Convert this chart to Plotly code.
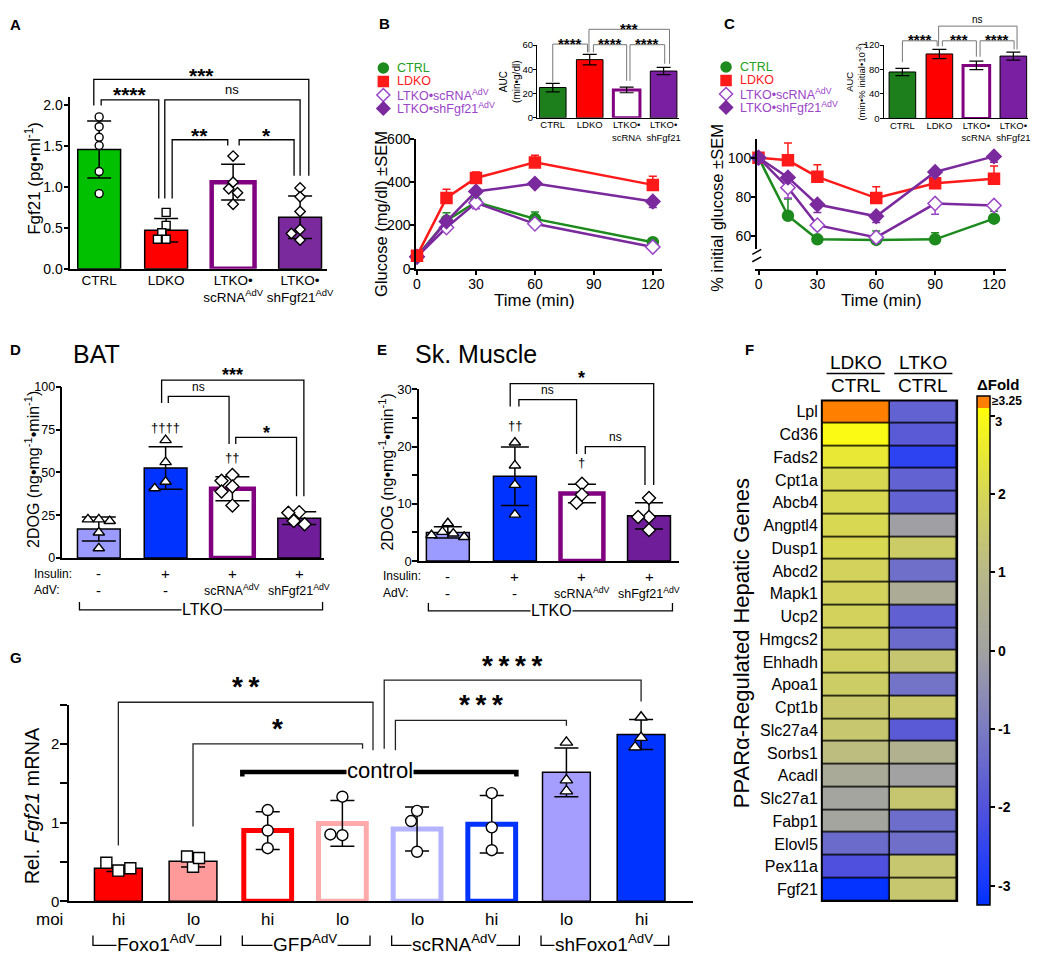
import plotly.graph_objects as go

W, H = 1050, 970
SANS = "Liberation Sans, Arial, Helvetica, sans-serif"
NARROW = "Liberation Sans Narrow, Arial Narrow, Liberation Sans, sans-serif"

# ---------------- data ----------------
# A  serum Fgf21
a_groups = ["CTRL", "LDKO", "LTKO•<br>scRNA<sup>AdV</sup>", "LTKO•<br>shFgf21<sup>AdV</sup>"]
a_mean = [1.46, 0.47, 1.06, 0.63]
a_sd = [0.35, 0.145, 0.22, 0.26]
a_dots = [[1.86, 1.74, 1.61, 1.51, 1.19, 0.92],
          [0.69, 0.53, 0.44, 0.36, 0.36],
          [1.38, 1.06, 0.98, 0.93, 0.79],
          [0.99, 0.88, 0.70, 0.48, 0.43, 0.35]]

# B  glucose tolerance
gtt_t = [0, 15, 30, 60, 120]
gtt_ctrl = [57, 222, 308, 230, 122]
gtt_ctrl_sem = [0, 36, 10, 32, 8]
gtt_ldko = [60, 327, 419, 491, 387]
gtt_ldko_sem = [0, 40, 28, 33, 40]
gtt_sc = [55, 190, 304, 207, 100]
gtt_sc_sem = [0, 15, 27, 8, 5]
gtt_sh = [55, 218, 357, 393, 310]
gtt_sh_sem = [0, 10, 8, 8, 28]
auc_groups = ["CTRL", "LDKO", "LTKO•<br>scRNA", "LTKO•<br>shFgf21"]
gtt_auc = [25, 48, 23, 38.6]
gtt_auc_sem = [3.5, 4.3, 2.3, 3.0]

# C  insulin tolerance
itt_t = [0, 15, 30, 60, 90, 120]
itt_ctrl = [100, 70.5, 58.5, 58.2, 58.5, 69]
itt_ctrl_sem = [0, 8.5, 1, 4.6, 3.3, 3.8]
itt_ldko = [100, 98.7, 90.3, 79.5, 87, 89.3]
itt_ldko_sem = [0, 8.8, 6.2, 5.8, 2, 6.5]
itt_sc = [100, 84.8, 65.7, 59.5, 76.7, 75.7]
itt_sc_sem = [0, 5.3, 2, 2.5, 5.5, 1]
itt_sh = [100, 90, 76.2, 70.2, 92.8, 100.7]
itt_sh_sem = [0, 1, 4, 3.2, 1, 3]
itt_auc = [76, 105.5, 86.8, 102]
itt_auc_sem = [6, 7.5, 7, 6.5]

# D / E  2DOG uptake
dog_insulin = ["-", "+", "+", "+"]
dog_adv = ["-", "-", "scRNA<sup>AdV</sup>", "shFgf21<sup>AdV</sup>"]
bat_mean = [17.0, 52.5, 40.5, 23.3]
bat_sd = [7.0, 12.4, 7.0, 3.7]
bat_dots = [[22.6, 22.6, 21.6, 14.9, 5.7], [68.8, 56.0, 44.5, 40.7],
            [48.4, 45.1, 41.7, 38.8, 30.6], [26.8, 26.4, 21.6, 19.7]]
bat_dagger = ["", "††††", "††", ""]
msc_mean = [5.0, 14.8, 11.8, 7.9]
msc_sd = [1.0, 5.1, 1.6, 2.3]
msc_dots = [[6.6, 5.1, 4.8, 4.5, 4.2], [20.7, 16.7, 13.3, 8.1],
            [13.5, 11.6, 10.2], [11.0, 7.7, 7.7, 5.4]]
msc_dagger = ["", "††", "†", ""]

# F  PPARa target genes, fold change vs CTRL
genes = ["Lpl", "Cd36", "Fads2", "Cpt1a", "Abcb4", "Angptl4", "Dusp1", "Abcd2", "Mapk1", "Ucp2", "Hmgcs2",
         "Ehhadh", "Apoa1", "Cpt1b", "Slc27a4", "Sorbs1", "Acadl", "Slc27a1", "Fabp1", "Elovl5", "Pex11a", "Fgf21"]
fold_ldko = [3.25, 3.0, 2.5, 2.05, 2.05, 2.05, 2.05, 1.85, 1.85, 1.85, 1.8,
             1.75, 1.7, 1.55, 1.5, 1.15, 0.35, 0.12, 0.12, -1.4, -2.05, -3.2]
fold_ltko = [-1.6, -1.8, -2.6, -1.6, -1.6, -0.05, 1.65, -1.3, 0.45, -1.65, -1.4,
             1.45, -1.2, 1.55, -1.8, 0.7, 0.0, 1.45, -1.35, -1.3, 1.5, 1.5]
fold_cols = ["LDKO", "LTKO"]
fold_ticks = [-3, -2, -1, 0, 1, 2, 3]

# G  Fgf21 mRNA in hepatocytes
g_moi = ["hi", "lo", "hi", "lo", "lo", "hi", "lo", "hi"]
g_vectors = ["Foxo1<sup>AdV</sup>", "GFP<sup>AdV</sup>", "scRNA<sup>AdV</sup>", "shFoxo1<sup>AdV</sup>"]
g_mean = [0.42, 0.51, 0.90, 0.99, 0.92, 0.98, 1.64, 2.12]
g_sd = [0.04, 0.075, 0.24, 0.29, 0.28, 0.365, 0.31, 0.19]
g_dots = [[0.39, 0.49, 0.42], [0.44, 0.57, 0.55], [1.16, 0.90, 0.675], [1.33, 0.84, 0.85],
          [1.15, 1.02, 0.63], [1.375, 0.94, 0.65], [2.02, 1.54, 1.40], [2.34, 2.08, 1.96]]

# ---------------- helpers ----------------
fig = go.Figure()
lay = {}
ann = []
shp = []

AXIS = dict(showline=True, linecolor="black", linewidth=1.5, ticks="outside", ticklen=5, tickwidth=1.5,
            tickcolor="black", showgrid=False, zeroline=False, fixedrange=True, tickfont=dict(size=14),
            ticklabelstandoff=-2)


def xr(k): return "x" if k == 1 else f"x{k}"
def yr(k): return "y" if k == 1 else f"y{k}"
def xname(k): return "xaxis" if k == 1 else f"xaxis{k}"
def yname(k): return "yaxis" if k == 1 else f"yaxis{k}"


def frame(k, left, right, top, bottom, xrng, yrng, xopt=None, yopt=None):
    x = dict(AXIS, domain=[left / W, right / W], range=xrng, anchor=yr(k))
    y = dict(AXIS, domain=[1 - bottom / H, 1 - top / H], range=yrng, anchor=xr(k))
    x.update(xopt or {})
    y.update(yopt or {})
    lay[xname(k)] = x
    lay[yname(k)] = y
    return (right - left) / (xrng[1] - xrng[0]), (bottom - top) / (yrng[1] - yrng[0])


def overlay(k, base, new_top):
    # invisible taller twin of a panel: brackets above the axes live here
    bx, by = lay[xname(base)], lay[yname(base)]
    bottom = (1 - by["domain"][0]) * H
    top = (1 - by["domain"][1]) * H
    r0, r1 = by["range"]
    lay[xname(k)] = dict(domain=bx["domain"], range=bx["range"], visible=False, fixedrange=True, anchor=yr(k))
    lay[yname(k)] = dict(domain=[by["domain"][0], 1 - new_top / H],
                         range=[r0, r0 + (r1 - r0) * (bottom - new_top) / (bottom - top)],
                         visible=False, fixedrange=True, anchor=xr(k))


def note(text, x, y, xref="paper", yref="paper", size=13, color="black", xa="center", ya="middle",
         angle=0, family=SANS, bold=False, bg=None, yshift=0):
    if xref == "paper":
        x = x / W
    if yref == "paper":
        y = 1 - y / H
    d = dict(text=text, x=x, y=y, xref=xref, yref=yref, showarrow=False, xanchor=xa, yanchor=ya,
             textangle=angle, yshift=yshift, borderpad=0,
             font=dict(size=size, color=color, family=family, weight="bold" if bold else "normal"))
    if bg:
        d["bgcolor"] = bg
    ann.append(d)


def swarm(center, vals, ppx, ppy, size):
    # spread overlapping dots sideways, prism-style
    placed, out = [], []
    for v in vals:
        for s in [0, -0.55, 0.55, -1.1, 1.1, -1.65, 1.65]:
            ox = s * size
            if all((ox - px) ** 2 + ((v - pv) * ppy) ** 2 >= (0.95 * size) ** 2 for px, pv in placed):
                break
        placed.append((ox, v))
        out.append(center + ox / ppx)
    return out


def bars(k, means, sds, fills, edges, widths, bw, cap, thick=1.5):
    fig.add_trace(go.Bar(x=list(range(len(means))), y=means, width=bw, xaxis=xr(k), yaxis=yr(k),
                         marker=dict(color=fills, line=dict(color=edges, width=widths)),
                         error_y=dict(type="data", array=sds, color="black", thickness=thick, width=cap),
                         hoverinfo="skip"))


def dots(k, groups, symbols, size, ppx, ppy):
    for i, vals in enumerate(groups):
        fig.add_trace(go.Scatter(x=swarm(i, vals, ppx, ppy, size), y=vals, mode="markers",
                                 xaxis=xr(k), yaxis=yr(k), cliponaxis=False, hoverinfo="skip",
                                 marker=dict(symbol=symbols[i], size=size, color="white",
                                             line=dict(color="black", width=1.4))))


def bracket(k, xl, xrt, top, bl, br, label, ly, size, color="black", lw=1.3):
    fig.add_trace(go.Scatter(x=[xl, xl, xrt, xrt], y=[bl, top, top, br], mode="lines", xaxis=xr(k),
                             yaxis=yr(k), line=dict(color=color, width=lw), hoverinfo="skip"))
    star = label.startswith("*")
    note(label, (xl + xrt) / 2, ly, xref=xr(k), yref=yr(k), size=size, bold=star,
         yshift=-0.22 * size if star else 0)


def curve(k, t, y, err, up, color, symbol, fill, mcolor):
    fig.add_trace(go.Scatter(x=t, y=y, xaxis=xr(k), yaxis=yr(k), mode="lines+markers", hoverinfo="skip",
                             line=dict(color=color, width=2.5), cliponaxis=False,
                             marker=dict(symbol=symbol, size=11, color=fill, line=dict(color=mcolor, width=1.5)),
                             error_y=dict(type="data", symmetric=False,
                                          array=err if up else [0] * len(err),
                                          arrayminus=[0] * len(err) if up else err,
                                          color=mcolor, thickness=1.5, width=4)))


def group_line(xref, x0, x1, y_line, y_tick, width=1.3):
    shp.append(dict(type="path", xref=xref, yref="paper", line=dict(color="black", width=width),
                    path=f"M {x0},{1 - y_tick / H} L {x0},{1 - y_line / H} L {x1},{1 - y_line / H} L {x1},{1 - y_tick / H}"))


GREEN, RED, PURPLE, LPURPLE = "#1c8a1c", "#ff1a1a", "#7b2a9e", "#9b45c8"

# ---------------- A ----------------
ppx, ppy = frame(1, 68, 327, 90, 265, [-0.43, 3.4], [0, 2.11],
                 xopt=dict(ticks="", tickvals=[0, 1, 2, 3], ticktext=a_groups, tickfont=dict(size=13.5)),
                 yopt=dict(tickvals=[0, 0.5, 1, 1.5, 2], tickformat=".1f"))
bars(1, a_mean, a_sd, ["#00c000", "#ff0000", "white", "#7b2a9e"], ["black", "black", "#800080", "black"],
     [1.5, 1.5, 4.5, 1.5], 0.64, 12)
dots(1, a_dots, ["circle", "square", "diamond", "diamond"], 8, ppx, ppy)
overlay(2, 1, 45)
bracket(2, -0.08, 3.13, 2.32, 2.0, 1.14, "***", 2.43, 21)
bracket(2, 0.03, 0.89, 2.07, 2.0, 0.86, "****", 2.19, 21)
bracket(2, 0.98, 3.0, 2.07, 0.86, 1.14, "ns", 2.19, 13)
bracket(2, 1.09, 1.92, 1.58, 0.86, 1.51, "**", 1.69, 21)
bracket(2, 2.09, 2.91, 1.58, 1.51, 1.14, "*", 1.69, 21)
note("Fgf21 (pg•ml<sup>-1</sup>)", 30, 173, size=17, angle=-90)

# ---------------- B ----------------
frame(3, 417, 665, 133, 265, [-0.5, 124.5], [0, 600],
      xopt=dict(tickvals=[0, 30, 60, 90, 120], ticklabelstandoff=-3),
      yopt=dict(tickvals=[0, 200, 400, 600], ticklen=4, ticklabelstandoff=-3))
curve(3, gtt_t, gtt_ctrl, gtt_ctrl_sem, True, GREEN, "circle", GREEN, GREEN)
curve(3, gtt_t, gtt_sc, gtt_sc_sem, False, PURPLE, "diamond", "white", LPURPLE)
curve(3, gtt_t, gtt_sh, gtt_sh_sem, False, PURPLE, "diamond", PURPLE, PURPLE)
curve(3, gtt_t, gtt_ldko, gtt_ldko_sem, True, RED, "square", RED, RED)
note("Glucose (mg/dl) ±SEM", 381, 209, size=16.5, angle=-90)
note("Time (min)", 537, 297, size=17)

INSET = dict(linewidth=1, ticklen=3, tickwidth=1, tickfont=dict(size=9.5), ticklabelstandoff=-2)
frame(4, 539, 683, 37.7, 111.7, [-0.43, 3.43], [0, 60],
      xopt=dict(INSET, ticks="", tickvals=[0, 1, 2, 3], ticktext=auc_groups),
      yopt=dict(INSET, tickvals=[0, 20, 40, 60]))
bars(4, gtt_auc, gtt_auc_sem, ["#1c7f1c", "#ff0000", "white", "#7b1fa2"], ["black", "black", "#800080", "black"],
     [1, 1, 3, 1], 0.72, 7, thick=1.2)
overlay(5, 4, 5)
bracket(5, 0, 0.94, 60.8, 29.7, 54, "****", 64, 15, color="#777", lw=1)
bracket(5, 0.98, 3.16, 73, 54, 44.6, "***", 76.5, 15, color="#777", lw=1)
bracket(5, 1.1, 2.0, 60.3, 54, 30.5, "****", 64, 15, color="#777", lw=1)
bracket(5, 2.09, 3.03, 60.3, 30.5, 44.6, "****", 64, 15, color="#777", lw=1)
note("AUC<br>(min•g/dl)", 512, 75, size=10, angle=-90)

# ---------------- C ----------------
frame(6, 761, 1013, 132.7, 245, [-0.9, 126.3], [53.6, 109.8],
      xopt=dict(tickvals=[0, 30, 60, 90, 120], anchor=yr(7), ticklabelstandoff=-3),
      yopt=dict(tickvals=[60, 80, 100], ticklen=4, ticklabelstandoff=-3))
lay[yname(7)] = dict(AXIS, domain=[1 - 266 / H, 1 - 252 / H], range=[0, 7], anchor=xr(6), tickvals=[0],
                     ticklen=4, ticklabelstandoff=-3)
curve(6, itt_t, itt_ctrl, itt_ctrl_sem, True, GREEN, "circle", GREEN, GREEN)
curve(6, itt_t, itt_ldko, itt_ldko_sem, True, RED, "square", RED, RED)
curve(6, itt_t, itt_sc, itt_sc_sem, False, PURPLE, "diamond", "white", LPURPLE)
curve(6, itt_t, itt_sh, itt_sh_sem, False, PURPLE, "diamond", PURPLE, PURPLE)
for yy in (248, 255.5):   # axis break marks
    shp.append(dict(type="line", xref="paper", yref="paper", x0=756.5 / W, x1=765.5 / W,
                    y0=1 - (yy + 2.5) / H, y1=1 - (yy - 2.5) / H, line=dict(color="black", width=1.5)))
note("% initial glucose ±SEM", 721, 203, size=16.5, angle=-90)
note("Time (min)", 887, 297, size=17)

frame(8, 889, 1035, 37.7, 112.3, [-0.51, 3.4], [0, 120],
      xopt=dict(INSET, ticks="", tickvals=[0, 1, 2, 3], ticktext=auc_groups),
      yopt=dict(INSET, tickvals=[0, 40, 80, 120]))
bars(8, itt_auc, itt_auc_sem, ["#1c7f1c", "#ff0000", "white", "#7b1fa2"], ["black", "black", "#800080", "black"],
     [1, 1, 3, 1], 0.72, 7, thick=1.2)
overlay(9, 8, 5)
bracket(9, 0, 0.94, 127, 92, 118, "****", 134, 15, color="#777", lw=1)
bracket(9, 0.98, 3.1, 151, 118, 113, "ns", 162, 10, color="#777", lw=1)
bracket(9, 1.08, 2.0, 127, 118, 101, "***", 134, 15, color="#777", lw=1)
bracket(9, 2.1, 3.02, 127, 101, 113, "****", 134, 15, color="#777", lw=1)
note("AUC<br>(min•% initial•10<sup>-2</sup>)", 861, 75, size=9.5, angle=-90)

# legends for B and C: markers on an invisible page-sized axis (pixel units), names as annotations
lay[xname(17)] = dict(domain=[0, 1], range=[0, W], visible=False, fixedrange=True, anchor=yr(17))
lay[yname(17)] = dict(domain=[0, 1], range=[H, 0], visible=False, fixedrange=True, anchor=xr(17))
legend_items = [("circle", GREEN, GREEN, "CTRL", "#22a022"), ("square", RED, RED, "LDKO", RED),
                ("diamond", "white", LPURPLE, "LTKO•scRNA<sup>AdV</sup>", LPURPLE),
                ("diamond", PURPLE, PURPLE, "LTKO•shFgf21<sup>AdV</sup>", LPURPLE)]
for lx, ly0 in ((384, 61), (730, 60)):
    for i, (sym, fill, edge, name, tcol) in enumerate(legend_items):
        fig.add_trace(go.Scatter(x=[lx], y=[ly0 + 13.7 * i], mode="markers", xaxis=xr(17), yaxis=yr(17),
                                 hoverinfo="skip", cliponaxis=False,
                                 marker=dict(symbol=sym, size=10, color=fill, line=dict(color=edge, width=1.5))))
        note(name, lx + 13, ly0 + 13.7 * i, size=12.5, color=tcol, xa="left")

# ---------------- D / E ----------------
DOG_FILL = ["#9a9aff", "#0033ff", "white", "#6f1d99"]
DOG_EDGE = ["black", "black", "#800080", "black"]
DOG_W = [1.5, 1.5, 4.5, 1.5]
SYM4 = ["triangle-up", "triangle-up", "diamond", "diamond"]

ppx, ppy = frame(10, 60, 324, 385, 559.3, [-0.545, 3.37], [0, 100],
                 xopt=dict(ticks="", showticklabels=False),
                 yopt=dict(tickvals=[0, 25, 50, 75, 100], tickfont=dict(size=12.5)))
bars(10, bat_mean, bat_sd, DOG_FILL, DOG_EDGE, DOG_W, 0.64, 17)
dots(10, bat_dots, SYM4, 10, ppx, ppy)
for i, d in enumerate(bat_dagger):
    if d:
        note(d, i, bat_mean[i] + bat_sd[i] + 11, xref=xr(10), yref=yr(10), size=13)
overlay(11, 10, 355)
bracket(11, 0.94, 3.07, 103.8, 90.4, 36, "***", 109, 18)
bracket(11, 1.04, 1.95, 94.3, 90.4, 66.5, "ns", 100, 12)
bracket(11, 2.05, 2.96, 70.4, 66.5, 36, "*", 75.5, 18)
note("BAT", 94, 352, size=25)
note("2DOG (ng•mg<sup>-1</sup>•min<sup>-1</sup>)", 30, 469, size=16, angle=-90)

ppx, ppy = frame(12, 420, 682, 387.7, 562.3, [-0.43, 3.44], [0, 30],
                 xopt=dict(ticks="", showticklabels=False),
                 yopt=dict(tickvals=[0, 10, 20, 30], tickfont=dict(size=13),
                           minor=dict(dtick=5, ticks="outside", ticklen=5, tickwidth=1.5, tickcolor="black")))
bars(12, msc_mean, msc_sd, DOG_FILL, DOG_EDGE, DOG_W, 0.64, 14)
dots(12, msc_dots, SYM4, 10, ppx, ppy)
for i, d in enumerate(msc_dagger):
    if d:
        note(d, i, msc_mean[i] + msc_sd[i] + 3.8, xref=xr(12), yref=yr(12), size=13)
overlay(13, 12, 360)
bracket(13, 0.93, 3.07, 31.0, 27.0, 13.3, "*", 32.6, 18)
bracket(13, 1.06, 1.92, 28.2, 27.0, 18.7, "ns", 29.8, 12)
bracket(13, 2.05, 2.94, 20.0, 18.7, 13.3, "ns", 21.6, 12)
note("Sk. Muscle", 478, 352, size=25)
note("2DOG (ng•mg<sup>-1</sup>•min<sup>-1</sup>)", 387, 472, size=16, angle=-90)

for k, lx, y_ins, y_adv, y_grp in ((10, 30, 575, 592, 612), (12, 383, 578, 595, 613)):
    note("Insulin:", lx, y_ins, size=12, xa="left", family=NARROW)
    note("AdV:", lx, y_adv, size=12, xa="left", family=NARROW)
    for i in range(4):
        note(dog_insulin[i], i, y_ins, xref=xr(k), size=15)
        note(dog_adv[i], i, y_adv, xref=xr(k), size=15 if dog_adv[i] == "-" else 12.5, family=NARROW)
    group_line(xr(k), -0.29, 3.35, y_grp, y_grp - 8)
    note("LTKO", 1.55, y_grp, xref=xr(k), size=16, bg="white")

# ---------------- F ----------------
frame(14, 826.7, 963.3, 399, 908, [-0.5, 1.5], [len(genes) - 0.5, -0.5],
      xopt=dict(visible=False),
      yopt=dict(showline=False, ticks="", tickvals=list(range(len(genes))), ticktext=genes,
                tickfont=dict(size=16, family=NARROW), ticklabelstandoff=3))
fcs = [[0.0, "#0030ff"], [0.0385, "#1438ff"], [0.1923, "#5252dc"], [0.3462, "#7b7bc2"], [0.5, "#a2a2a2"],
       [0.6538, "#b8b888"], [0.8077, "#d6d656"], [0.9615, "#fafa14"], [0.976, "#ffff00"],
       [0.9761, "#ff8000"], [1.0, "#ff8000"]]
shp.append(dict(type="rect", xref=xr(14) + " domain", yref=yr(14) + " domain", x0=0, x1=1, y0=0, y1=1,
                fillcolor="black", line=dict(width=0), layer="below"))
# top tick label of the colour bar is written separately, tucked under the ">=3.25" note
cb_text = [str(t) if t < 3 else "" for t in fold_ticks]
fig.add_trace(go.Heatmap(z=[[a, b] for a, b in zip(fold_ldko, fold_ltko)], x=[0, 1], y=list(range(len(genes))),
                         xaxis=xr(14), yaxis=yr(14), zmin=-3.25, zmax=3.25, colorscale=fcs, xgap=1.5, ygap=1.5,
                         hoverinfo="skip",
                         colorbar=dict(x=983.3 / W, xanchor="left", xpad=0, y=1 - 653.5 / H, yanchor="middle",
                                       ypad=0, len=509, lenmode="pixels", thickness=13.4, outlinewidth=1.5,
                                       outlinecolor="black", tickvals=fold_ticks, ticktext=cb_text,
                                       ticks="outside", ticklen=5, tickwidth=1.5, tickcolor="black",
                                       tickfont=dict(size=14, weight="bold"))))
shp.append(dict(type="rect", xref=xr(14) + " domain", yref=yr(14) + " domain", x0=0, x1=1, y0=0, y1=1,
                line=dict(color="black", width=2)))
for i, c in enumerate(fold_cols):
    note(c, i, 360, xref=xr(14), size=19)
    note("CTRL", i, 384, xref=xr(14), size=19)
    shp.append(dict(type="line", xref=xr(14), yref="paper", x0=i - 0.43, x1=i + 0.43,
                    y0=1 - 371.7 / H, y1=1 - 371.7 / H, line=dict(color="black", width=1.5)))
note("ΔFold", 1005, 383, size=15, bold=True)
note("≥3.25", 998, 400, size=12, bold=True, xa="left")
note(str(fold_ticks[-1]), 1001, 420, size=13, bold=True, xa="left")
note("PPARα-Regulated Hepatic Genes", 745, 646, size=22, angle=-90)

# ---------------- G ----------------
G_FILL = ["#ff0000", "#ff9a9a", "white", "white", "white", "white", "#a69eff", "#0033ff"]
G_EDGE = ["black", "black", "#ff0000", "#ffaaaa", "#b3b3ff", "#0033ff", "black", "black"]
G_W = [1.5, 1.5, 5, 5, 5, 5, 1.5, 1.5]
G_SYM = ["square", "square", "circle", "circle", "circle", "circle", "triangle-up", "triangle-up"]
ppx, ppy = frame(15, 66.7, 697, 708.3, 908.3, [-0.66, 7.7], [0, 2.5],
                 xopt=dict(ticks="", showticklabels=False),
                 yopt=dict(tickvals=[0, 1, 2], tickfont=dict(size=15), ticklen=7,
                           minor=dict(dtick=0.5, ticks="outside", ticklen=7, tickwidth=1.5, tickcolor="black")))
bars(15, g_mean, g_sd, G_FILL, G_EDGE, G_W, 0.64, 12)
dots(15, g_dots, G_SYM, 11, ppx, ppy)
overlay(16, 15, 645)
bracket(16, 0, 3.41, 2.53, 0.71, 1.92, "*\u2009*", 2.81, 28, color="#222")
bracket(16, 1, 3.27, 2.0, 0.95, 1.94, "*", 2.28, 28, color="#222")
bracket(16, 3.56, 7, 2.81, 1.94, 2.54, "*\u2009*\u2009*\u2009*", 3.08, 28, color="#222")
bracket(16, 3.71, 6.0, 2.30, 1.92, 2.23, "*\u2009*\u2009*", 2.58, 28, color="#222")
fig.add_trace(go.Scatter(x=[1.66, 1.66, 5.33, 5.33], y=[1.585, 1.645, 1.645, 1.585], mode="lines",
                         xaxis=xr(16), yaxis=yr(16), line=dict(color="black", width=4.5), hoverinfo="skip"))
note("control", 3.5, 1.66, xref=xr(16), yref=yr(16), size=22, bg="white")
note("Rel. <i>Fgf21</i> mRNA", 29, 811, size=20, angle=-90)
note("moi", 47, 927, size=17)
for i, m in enumerate(g_moi):
    note(m, i, 927, xref=xr(15), size=17)
for j, v in enumerate(g_vectors):
    group_line(xr(15), 2 * j - 0.34, 2 * j + 1.37, 953, 943)
    note(v, 2 * j + 0.5, 951, xref=xr(15), size=19, bg="white")

# panel letters
for letter, lx, ly in (("A", 13, 17), ("B", 385, 16), ("C", 733, 16), ("D", 13, 347),
                       ("E", 383, 347), ("F", 754, 347), ("G", 13, 660)):
    note(letter, lx, ly, size=15, bold=True)

# transparent plot background: overlapping subplots would otherwise paint over each other
fig.update_layout(width=W, height=H, margin=dict(l=0, r=0, t=0, b=0), paper_bgcolor="white",
                  plot_bgcolor="rgba(0,0,0,0)", showlegend=False, font=dict(family=SANS, color="black"),
                  annotations=ann, shapes=shp, **lay)
fig.write_html("out.html", config={"displayModeBar": False},
               post_script="document.body.style.margin='0px';")
